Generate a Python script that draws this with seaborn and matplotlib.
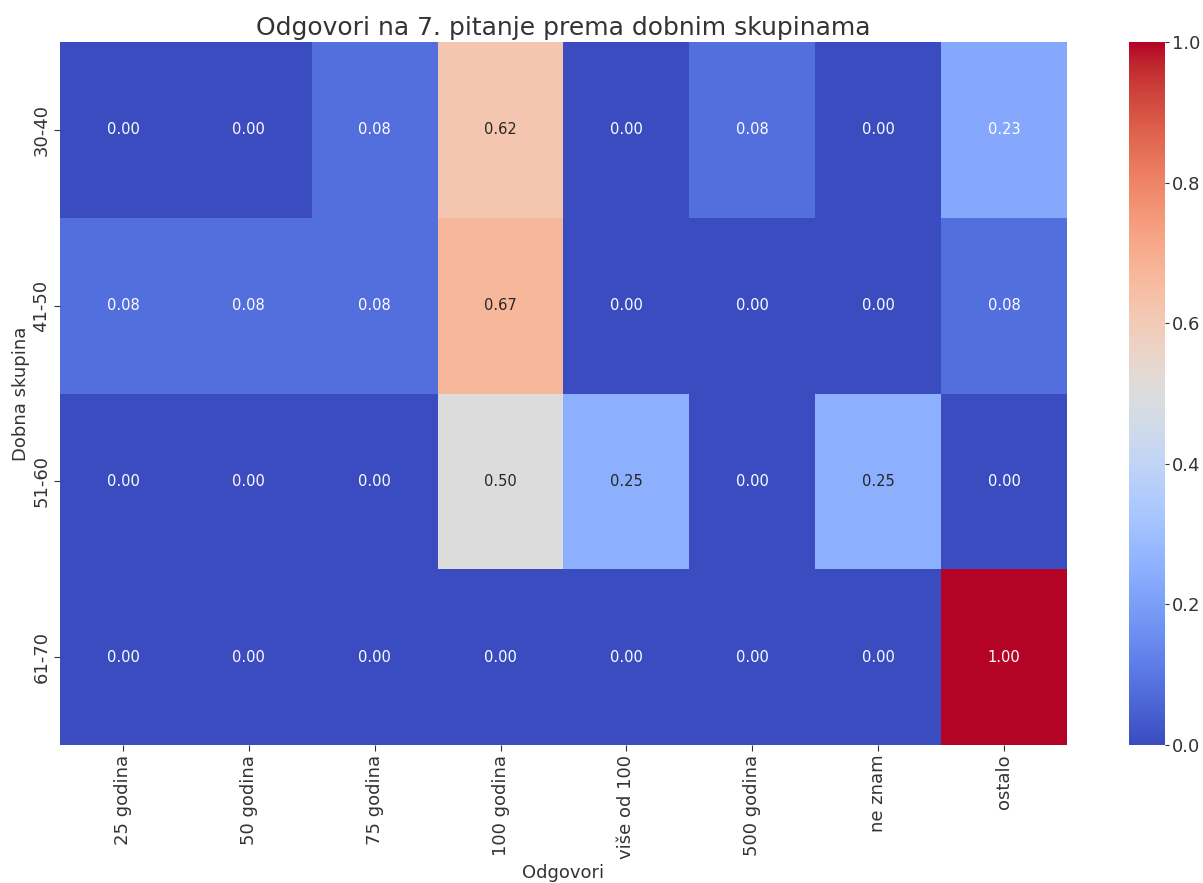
import matplotlib
matplotlib.use("Agg")
import matplotlib.pyplot as plt
import pandas as pd
import seaborn as sns

age_groups = ["30-40", "41-50", "51-60", "61-70"]
answers = ["25 godina", "50 godina", "75 godina", "100 godina",
           "više od 100", "500 godina", "ne znam", "ostalo"]
row_30_40 = [0.00, 0.00, 0.08, 0.62, 0.00, 0.08, 0.00, 0.23]
row_41_50 = [0.08, 0.08, 0.08, 0.67, 0.00, 0.00, 0.00, 0.08]
row_51_60 = [0.00, 0.00, 0.00, 0.50, 0.25, 0.00, 0.25, 0.00]
row_61_70 = [0.00, 0.00, 0.00, 0.00, 0.00, 0.00, 0.00, 1.00]

plt.rcParams["font.family"] = ["DejaVu Sans"]
text_col = "#333333"

df = pd.DataFrame([row_30_40, row_41_50, row_51_60, row_61_70],
                  index=age_groups, columns=answers)

fig = plt.figure(figsize=(12.03, 8.83), dpi=100)
ax = fig.add_axes([0.0499, 0.1563, 0.837, 0.796])
cax = fig.add_axes([0.9385, 0.1563, 0.030, 0.796])

sns.heatmap(df, annot=True, fmt=".2f", cmap="coolwarm", vmin=0, vmax=1,
            ax=ax, cbar_ax=cax, annot_kws={"size": 10.5})

ax.set_title("Odgovori na 7. pitanje prema dobnim skupinama", fontsize=18, color=text_col, pad=5)
ax.set_xlabel("Odgovori", fontsize=13, color=text_col, labelpad=3.5)
ax.set_ylabel("Dobna skupina", fontsize=13, color=text_col, labelpad=2)
ax.tick_params(axis="x", labelsize=13, rotation=90, colors=text_col, length=4, pad=3)
ax.tick_params(axis="y", labelsize=13, rotation=90, colors=text_col, length=4, pad=3)
for lbl in ax.get_yticklabels():
    lbl.set_va("center")
cax.tick_params(labelsize=13, colors=text_col, length=3, pad=2)
cax.set_yticks([0.0, 0.2, 0.4, 0.6, 0.8, 1.0])

fig.savefig("out.png", dpi=100)
